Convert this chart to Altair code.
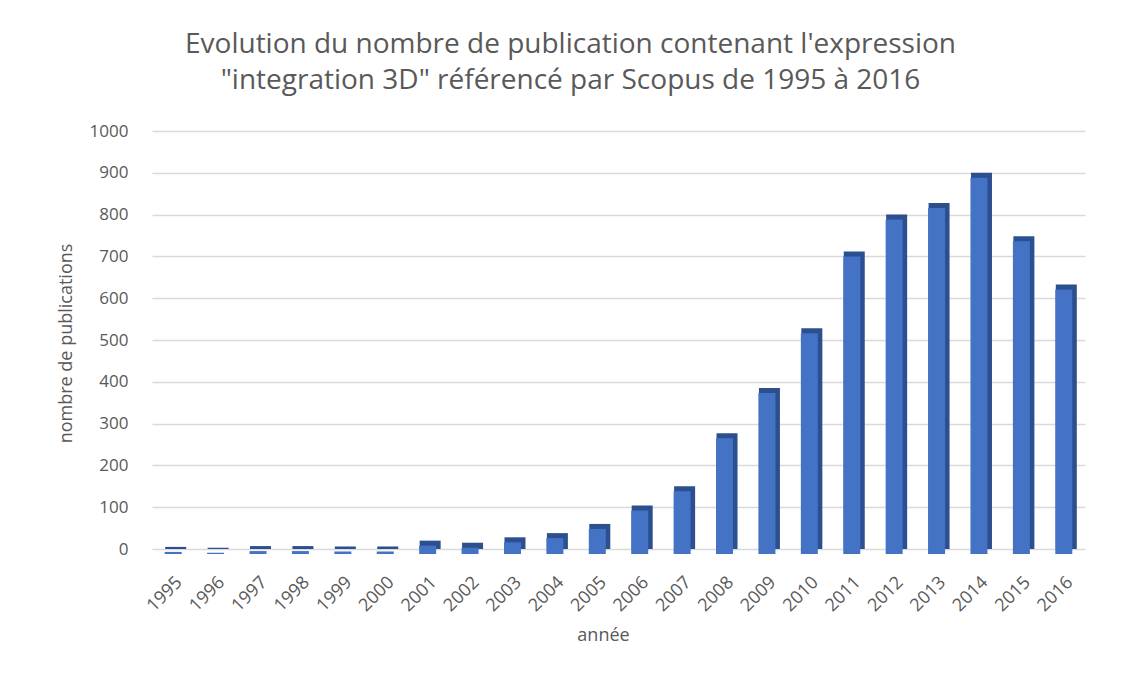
import altair as alt
import pandas as pd

years = ["1995", "1996", "1997", "1998", "1999", "2000", "2001", "2002", "2003", "2004", "2005",
         "2006", "2007", "2008", "2009", "2010", "2011", "2012", "2013", "2014", "2015", "2016"]
publications = [5, 3, 7, 7, 6, 6, 20, 15, 28, 38, 60, 104, 150, 277, 385, 528, 712, 800, 828, 900, 748, 633]

title_lines = ["Evolution du nombre de publication contenant l'expression",
               "\"integration 3D\" référencé par Scopus de 1995 à 2016"]
y_ticks = [0, 100, 200, 300, 400, 500, 600, 700, 800, 900, 1000]

df = pd.DataFrame({"annee": years, "n": publications})

FONT = "Open Sans"
TXT = "#595959"

x = alt.X("annee:N", sort=years, title="année",
          scale=alt.Scale(paddingInner=0.5, paddingOuter=0.25),
          axis=alt.Axis(labelAngle=-45, labelFontSize=18, labelColor=TXT, labelFont=FONT,
                        labelPadding=24, ticks=False, domain=False, grid=False,
                        titleFont=FONT, titleFontSize=18, titleColor=TXT, titleFontWeight="normal",
                        titleX=451, titleY=86, titleAlign="center", titleBaseline="middle"))
y = alt.Y("n:Q", title="nombre de publications",
          scale=alt.Scale(domain=[0, 1000], nice=False),
          axis=alt.Axis(values=y_ticks, format="d", labelFontSize=17, labelColor=TXT, labelFont=FONT,
                        labelPadding=24, ticks=False, domain=False, gridColor="#D9D9D9",
                        gridWidth=1.5,
                        titleFont=FONT, titleFontSize=18, titleColor=TXT, titleFontWeight="normal",
                        titleX=-86, titleY=212, titleAngle=-90, titleAlign="center",
                        titleBaseline="middle"))

side = alt.Chart(df).mark_bar(color="#2C4F8F", width=21, xOffset=2.5).encode(x=x, y=y)
front = alt.Chart(df).mark_bar(color="#4472C4", width=17, yOffset=5).encode(x=x, y=y)

chart = alt.layer(side, front).properties(
    width=933, height=418,
    title=alt.Title(text=title_lines, font=FONT, fontSize=28, fontWeight="normal", color=TXT,
                    anchor="middle", dx=-48, offset=27, lineHeight=36),
).configure(
    background="white",
    autosize=alt.AutoSizeParams(type="none"),
    padding={"left": 144, "top": 123, "right": 34, "bottom": 118},
    view=alt.ViewConfig(stroke=None),
)

chart.save("out.html", embed_options={"renderer": "svg", "actions": False})
